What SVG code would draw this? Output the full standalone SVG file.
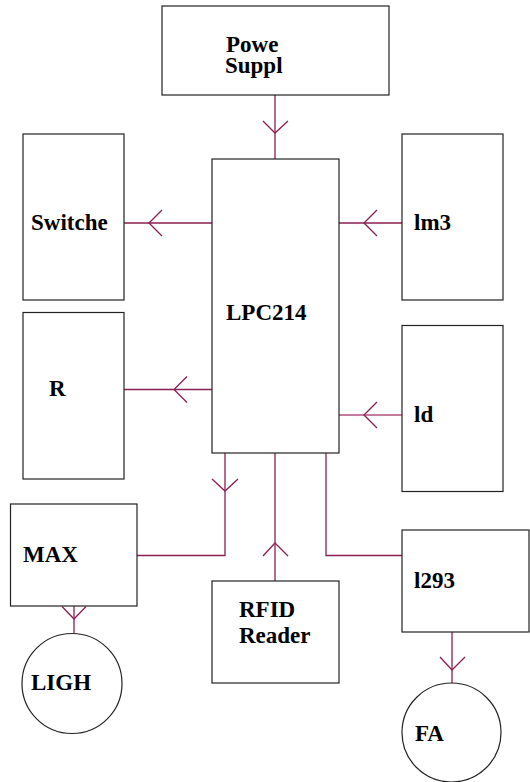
<svg xmlns="http://www.w3.org/2000/svg" width="530" height="782" viewBox="0 0 530 782">
<style>
.box{fill:#fff;stroke:#222;stroke-width:1.2}
.lbl{font-family:"Liberation Serif","Times New Roman",serif;font-weight:bold;font-size:23px;fill:#000}
.wire{fill:none;stroke:#8a1f52;stroke-width:1.3}
</style>
<rect width="530" height="782" fill="#fff"/>
<g id="connectors">
<line class="wire" x1="275" y1="95" x2="275" y2="159"/>
<polyline class="wire" points="263,121 275,133 288,121"/>
<line class="wire" x1="124" y1="223" x2="212" y2="223"/>
<polyline class="wire" points="162,210 149,223 162,236"/>
<line class="wire" x1="339" y1="223" x2="402" y2="223"/>
<polyline class="wire" points="377,210 364,223 377,236"/>
<line class="wire" x1="124" y1="389.5" x2="212" y2="389.5"/>
<polyline class="wire" points="187,376.5 174,389.5 187,402.5"/>
<line class="wire" x1="339" y1="415" x2="402" y2="415" style="stroke:#b0507e;stroke-width:1.6"/>
<polyline class="wire" points="377,402 364,415 377,428"/>
<polyline class="wire" points="225,453 225,555.5 137,555.5"/>
<polyline class="wire" points="212,479 225,491 238,479"/>
<line class="wire" x1="275" y1="453" x2="275" y2="581"/>
<polyline class="wire" points="263,556 275,543 288,556"/>
<polyline class="wire" points="326,453 326,555.5 402,555.5"/>
<line class="wire" x1="452" y1="632" x2="452" y2="683"/>
<polyline class="wire" points="440,657 452,670 465,657"/>
<line class="wire" x1="74" y1="606" x2="74" y2="633"/>
<polyline class="wire" points="62,606.5 74,619 86,606.5"/>
</g>
<g id="power">
<rect class="box" x="162" y="6" width="227" height="89"/>
<text class="lbl"><tspan x="226" y="52">Powe</tspan><tspan x="225" y="73">Suppl</tspan></text>
</g>
<g id="lpc">
<rect class="box" x="212" y="159" width="127" height="294"/>
<text class="lbl" x="226" y="320">LPC214</text>
</g>
<g id="switches">
<rect class="box" x="23" y="134" width="101" height="166"/>
<text class="lbl" x="31" y="230">Switche</text>
</g>
<g id="lm3">
<rect class="box" x="402" y="134" width="101" height="166"/>
<text class="lbl" x="414" y="230">lm3</text>
</g>
<g id="r">
<rect class="box" x="23" y="312.5" width="101" height="166.5"/>
<text class="lbl" x="49" y="396">R</text>
</g>
<g id="ld">
<rect class="box" x="402" y="325.5" width="101" height="166"/>
<text class="lbl" x="414" y="421.5">ld</text>
</g>
<g id="max">
<rect class="box" x="10.5" y="504" width="126.5" height="102"/>
<text class="lbl" x="23" y="561.5">MAX</text>
</g>
<g id="rfid">
<rect class="box" x="212" y="581" width="127" height="102"/>
<text class="lbl"><tspan x="239" y="617">RFID</tspan><tspan x="239" y="643">Reader</tspan></text>
</g>
<g id="l293">
<rect class="box" x="402" y="530" width="127" height="102"/>
<text class="lbl" x="414" y="587.5">l293</text>
</g>
<g id="ligh">
<circle class="box" cx="72" cy="683.5" r="50"/>
<text class="lbl" x="31" y="690">LIGH</text>
</g>
<g id="fa">
<circle class="box" cx="451.5" cy="732.5" r="49.5"/>
<text class="lbl" x="415" y="740.5">FA</text>
</g>
</svg>
